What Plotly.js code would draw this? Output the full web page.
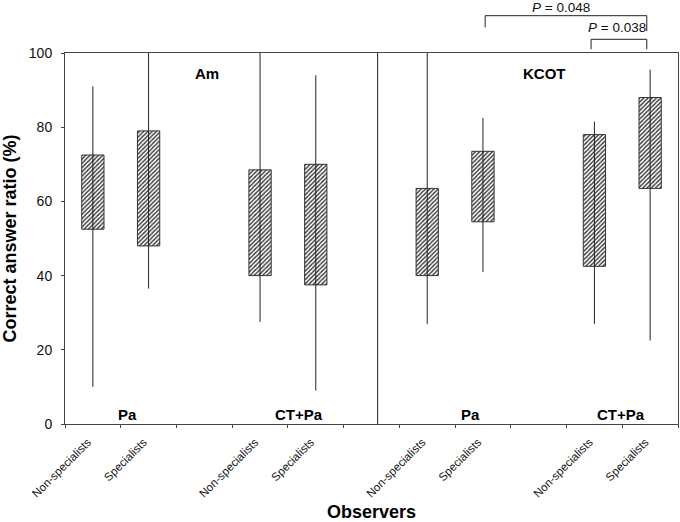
<!DOCTYPE html>
<html>
<head>
<meta charset="utf-8">
<script src="https://cdn.plot.ly/plotly-3.0.1.min.js"></script>
<style>html,body{margin:0;padding:0;background:#fff;}</style>
</head>
<body>
<div id="chart" style="width:680px;height:522px;"></div>
<script>
// ---- data ----
const panels      = ['Am', 'KCOT'];
const methods     = ['Pa', 'CT+Pa'];
const observers   = ['Non-specialists', 'Specialists', 'Non-specialists', 'Specialists',
                     'Non-specialists', 'Specialists', 'Non-specialists', 'Specialists'];
const slot        = [0.5, 1.5, 3.5, 4.5, 6.5, 7.5, 9.5, 10.5];   // category slot on the axis
const whiskerLow  = [10, 36.5, 27.5, 9, 27, 41, 27, 22.5];
const boxLow      = [52.5, 48, 40, 37.5, 40, 54.5, 42.5, 63.5];
const boxHigh     = [72.5, 79, 68.5, 70, 63.5, 73.5, 78, 88];
const whiskerHigh = [91, 100, 100, 94, 100, 82.5, 81.5, 95.5];
const yTicks      = [0, 20, 40, 60, 80, 100];
const pTexts      = ['0.048', '0.038'];

// ---- traces ----
const wx = [], wy = [];
slot.forEach((s, i) => { wx.push(s, s, null); wy.push(whiskerLow[i], whiskerHigh[i], null); });

const whiskers = {
  type: 'scatter', mode: 'lines', x: wx, y: wy,
  line: {color: '#222', width: 1}, hoverinfo: 'skip', showlegend: false
};
const boxes = {
  type: 'bar', x: slot,
  y: boxHigh.map((h, i) => h - boxLow[i]), base: boxLow,
  width: 0.4,
  marker: {
    color: '#ffffff',
    line: {color: '#333', width: 1},
    pattern: {shape: '/', fgcolor: '#333', bgcolor: '#ffffff', size: 3, solidity: 0.45}
  },
  hoverinfo: 'skip', showlegend: false
};

const FONT = 'Liberation Sans, Arial, sans-serif';
const yp = py => (424 - py) / 371;   // helper: pixel row above plot -> paper fraction

const layout = {
  width: 680, height: 522,
  margin: {l: 65, r: 2, t: 53, b: 98},
  paper_bgcolor: '#fff', plot_bgcolor: '#fff',
  font: {family: FONT, color: '#111'},
  showlegend: false,
  bargap: 0,
  xaxis: {
    range: [0, 11], tickmode: 'array', tickvals: slot, ticktext: observers,
    tickangle: -45, ticks: '', ticklabelstandoff: 6, ticklabelshift: -5,
    tickfont: {family: FONT, size: 11.5, color: '#111'},
    minor: {tick0: 0, dtick: 1, ticks: 'outside', ticklen: 3, tickcolor: '#444', tickwidth: 1},
    showline: true, mirror: true, linecolor: '#444', linewidth: 1,
    showgrid: false, zeroline: false, fixedrange: true,
    title: {text: '<b>Observers</b>', font: {family: FONT, size: 18, color: '#000'}, standoff: 8}
  },
  yaxis: {
    range: [0, 100], tickmode: 'array', tickvals: yTicks,
    ticks: 'outside', ticklen: 3, tickcolor: '#444', ticklabelstandoff: 6,
    tickfont: {family: FONT, size: 14, color: '#111'},
    showline: true, mirror: true, linecolor: '#444', linewidth: 1,
    showgrid: false, zeroline: false, fixedrange: true,
    title: {text: '<b>Correct answer ratio (%)</b>', font: {family: FONT, size: 18, color: '#000'}, standoff: 8}
  },
  shapes: [
    {type: 'line', xref: 'x', yref: 'y', x0: 5.61, x1: 5.61, y0: 0, y1: 100, line: {color: '#222', width: 1}},
    {type: 'path', xref: 'x', yref: 'paper',
     path: `M 7.54 ${yp(27.3)} L 7.54 ${yp(15.7)} L 10.44 ${yp(15.7)} L 10.44 ${yp(31)}`,
     line: {color: '#222', width: 1}},
    {type: 'path', xref: 'x', yref: 'paper',
     path: `M 9.44 ${yp(49.3)} L 9.44 ${yp(39.3)} L 10.44 ${yp(39.3)} L 10.44 ${yp(49.3)}`,
     line: {color: '#222', width: 1}}
  ],
  annotations: [
    {xref: 'x', yref: 'y', x: 2.54, y: 94.5, text: '<b>' + panels[0] + '</b>', showarrow: false, font: {size: 15, color: '#000'}},
    {xref: 'x', yref: 'y', x: 8.6, y: 94.5, text: '<b>' + panels[1] + '</b>', showarrow: false, font: {size: 15, color: '#000'}},
    {xref: 'x', yref: 'y', x: 1.12, y: 2.6, text: '<b>' + methods[0] + '</b>', showarrow: false, font: {size: 15, color: '#000'}},
    {xref: 'x', yref: 'y', x: 4.2, y: 2.6, text: '<b>' + methods[1] + '</b>', showarrow: false, font: {size: 15, color: '#000'}},
    {xref: 'x', yref: 'y', x: 7.27, y: 2.6, text: '<b>' + methods[0] + '</b>', showarrow: false, font: {size: 15, color: '#000'}},
    {xref: 'x', yref: 'y', x: 9.97, y: 2.6, text: '<b>' + methods[1] + '</b>', showarrow: false, font: {size: 15, color: '#000'}},
    {xref: 'x', yref: 'paper', x: 8.9, y: yp(7), xanchor: 'center', yanchor: 'middle',
     text: '<i>P</i> = ' + pTexts[0], showarrow: false, font: {size: 13.5, color: '#111'}},
    {xref: 'x', yref: 'paper', x: 9.9, y: yp(27.5), xanchor: 'center', yanchor: 'middle',
     text: '<i>P</i> = ' + pTexts[1], showarrow: false, font: {size: 13.5, color: '#111'}}
  ]
};

Plotly.newPlot('chart', [whiskers, boxes], layout, {displayModeBar: false, staticPlot: true});
</script>
</body>
</html>
